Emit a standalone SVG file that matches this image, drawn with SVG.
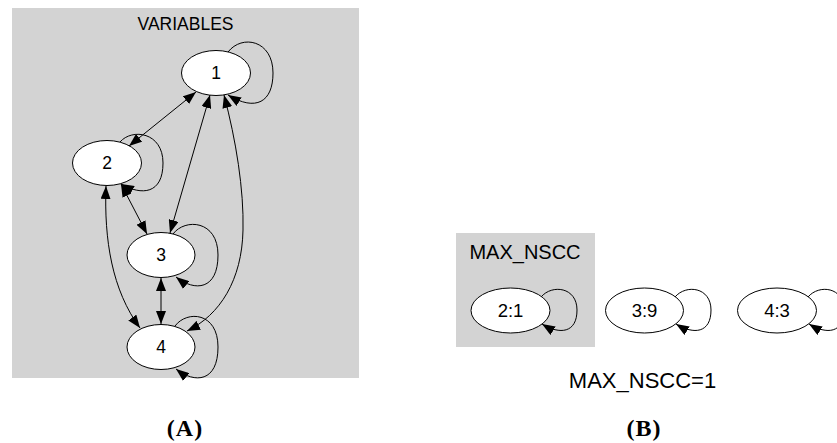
<svg xmlns="http://www.w3.org/2000/svg" width="837" height="443" viewBox="0 0 837 443">
<defs>
<marker id="ah" markerWidth="13" markerHeight="10" refX="13" refY="5" orient="auto-start-reverse" markerUnits="userSpaceOnUse">
<path d="M0,0 L13,5 L0,10 z" fill="#000"/>
</marker>
<style>
.cl{fill:#d3d3d3;stroke:none}
.nd{fill:#fff;stroke:#000;stroke-width:1}
.t{font-family:"Liberation Sans",Arial,sans-serif;font-size:17.5px;fill:#000;text-anchor:middle}
.e{fill:none;stroke:#000;stroke-width:1}
.lb{font-family:"Liberation Serif","Times New Roman",serif;font-weight:bold;font-size:24px;letter-spacing:1px;fill:#000;text-anchor:middle}
</style>
</defs>
<g id="clusterA">
<rect class="cl" x="12" y="8" width="347" height="370"/>
<text class="t" x="185.5" y="30">VARIABLES</text>
</g>
<g id="clusterB">
<rect class="cl" x="456" y="233" width="139" height="114"/>
<text class="t" x="525" y="259" style="font-size:20px">MAX_NSCC</text>
</g>
<g id="edges">
<path class="e" d="M228,52 C242,34 273,40 273,73 C273,102 256,112 228,95" marker-end="url(#ah)"/>
<path class="e" d="M196,92 L129,146" marker-start="url(#ah)" marker-end="url(#ah)"/>
<path class="e" d="M120,142 C132,128 163,132 163,163 C163,194 142,196 121,184" marker-end="url(#ah)"/>
<path class="e" d="M210,95 L170,233" marker-start="url(#ah)" marker-end="url(#ah)"/>
<path class="e" d="M224,95 C236,140 244,190 243,230 C242,280 220,315 187,331" marker-start="url(#ah)" marker-end="url(#ah)"/>
<path class="e" d="M121,184 L147,234" marker-start="url(#ah)" marker-end="url(#ah)"/>
<path class="e" d="M106,186 C104,240 112,290 140,328" marker-start="url(#ah)" marker-end="url(#ah)"/>
<path class="e" d="M173,234 C185,218 218,220 218,255 C218,290 195,292 176,277" marker-end="url(#ah)"/>
<path class="e" d="M161,278 L161,324" marker-start="url(#ah)" marker-end="url(#ah)"/>
<path class="e" d="M175,326 C187,310 218,312 218,347 C218,382 195,384 176,369" marker-end="url(#ah)"/>
<path class="e" d="M541,297 C552,284 577,287 577,310 C577,333 560,335 542,324" marker-end="url(#ah)"/>
<path class="e" d="M675,297 C686,284 711,287 711,310 C711,333 694,335 676,324" marker-end="url(#ah)"/>
<path class="e" d="M808,297 C819,284 844,287 844,310 C844,333 827,335 809,324" marker-end="url(#ah)"/>
</g>
<g id="n1"><ellipse class="nd" cx="216" cy="73" rx="34.5" ry="22.5"/><text class="t" x="216" y="79">1</text></g>
<g id="n2"><ellipse class="nd" cx="107" cy="163" rx="34.5" ry="22.5"/><text class="t" x="107" y="169">2</text></g>
<g id="n3"><ellipse class="nd" cx="161" cy="255" rx="34" ry="22.5"/><text class="t" x="161" y="261">3</text></g>
<g id="n4"><ellipse class="nd" cx="161" cy="347" rx="34" ry="22.5"/><text class="t" x="161" y="353">4</text></g>
<g id="b21"><ellipse class="nd" cx="510.5" cy="310.5" rx="39.5" ry="22.5"/><text class="t" x="510.5" y="317" style="font-size:18.5px">2:1</text></g>
<g id="b39"><ellipse class="nd" cx="644.5" cy="310.5" rx="39" ry="22.5"/><text class="t" x="644.5" y="317" style="font-size:18.5px">3:9</text></g>
<g id="b43"><ellipse class="nd" cx="777" cy="310.5" rx="39.5" ry="22.5"/><text class="t" x="777" y="317" style="font-size:18.5px">4:3</text></g>
<text class="t" x="642.5" y="388" style="font-size:22px">MAX_NSCC=1</text>
<text class="lb" x="185" y="436">(A)</text>
<text class="lb" x="644" y="436">(B)</text>
</svg>
